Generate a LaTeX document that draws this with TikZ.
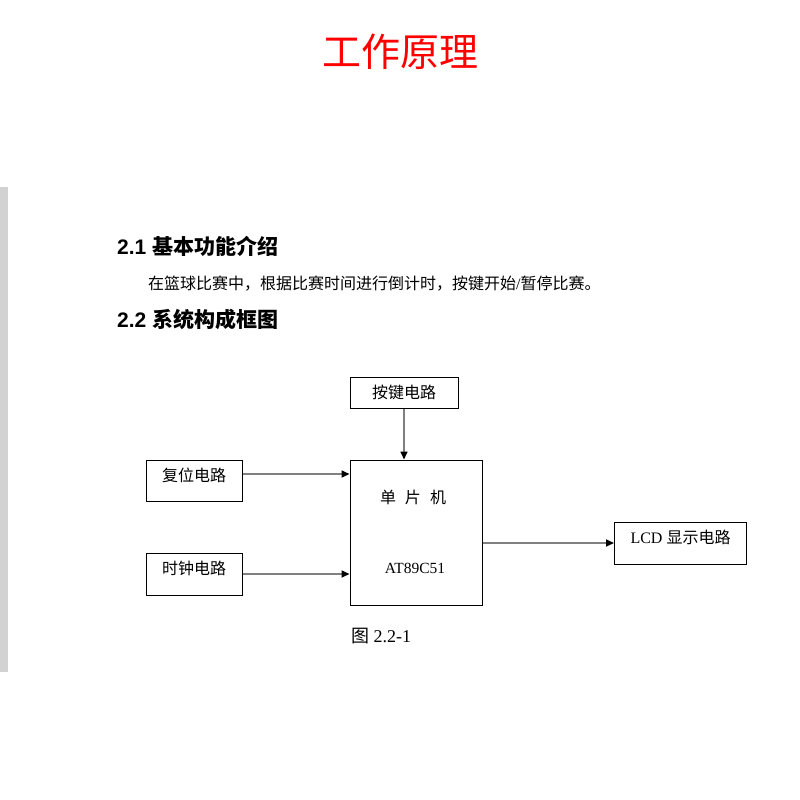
\documentclass[tikz,border=0pt]{standalone}
\usepackage{fontspec}
\setmainfont{Liberation Serif}
\newfontfamily\cjk{Noto Sans CJK SC}
\newfontfamily\headfont{Liberation Sans}
\usetikzlibrary{arrows.meta, positioning}

\begin{document}
\begin{tikzpicture}[x=1pt, y=-1pt,
        block/.style={draw=black, line width=1pt, inner sep=0pt, font=\fontsize{16}{18}\selectfont\cjk},
        raised/.style={text depth=12pt},
        link/.style={draw=gray, line width=1.6pt, -{Triangle[black, length=8pt, width=7pt]}},
        heading/.style={anchor=west, inner sep=0pt, font=\fontsize{21}{24}\selectfont\headfont\bfseries}]
                        \fill[white] (0,0) rectangle (800,800);
                        \useasboundingbox (0,0) rectangle (800,800);
                        \fill[gray!35] (0,187) rectangle (8,672);
                        \node[text=red, font=\fontsize{39}{44}\selectfont\cjk] (title) at (400,52) {工作原理};
                        \node[heading] (sec1) at (117,246) {2.1 \cjk 基本功能介绍};
                        \node[anchor=west, inner sep=0pt, font=\fontsize{16}{18}\selectfont\cjk] (intro) at (148,284) {在篮球比赛中，根据比赛时间进行倒计时，按键开始{\rmfamily /}暂停比赛。};
                        \node[heading] (sec2) at (117,319) {2.2 \cjk 系统构成框图};
                        \node[block, minimum width=108pt, minimum height=31pt] (key) at (404,392.5) {按键电路};
                        \node[block, raised, minimum width=96pt, minimum height=41pt] (reset) at (194,481) {复位电路};
                        \node[block, raised, minimum width=96pt, minimum height=42pt] (clock) at (194,574) {时钟电路};
                        \node[block, minimum width=132pt, minimum height=145pt] (mcu) at (416,532.5) {};
                        \node[font=\fontsize{16}{18}\selectfont\cjk] (mcuname) at (413,497) {单\hspace{9pt}片\hspace{9pt}机};
                        \node[font=\fontsize{15.5}{18}\selectfont\rmfamily] (mcuchip) at (415,568) {AT89C51};
                        \node[block, raised, minimum width=132pt, minimum height=42pt] (lcd) at (680.5,543) {\rmfamily LCD \cjk 显示电路};
                        \node[font=\fontsize{18}{20}\selectfont] (cap) at (381,636) {{\cjk 图} 2.2-1};
                        \coordinate (r) at ([yshift=7pt]reset.east);
                        \draw
                        (key.south) edge[link] (key.south |- mcu.north)
                        (r) edge[link] (r -| mcu.west)
                        (clock.east) edge[link] (clock.east -| mcu.west)
                        (lcd.west -| mcu.east) edge[link] (lcd.west);
                    \end{tikzpicture}
\end{document}
